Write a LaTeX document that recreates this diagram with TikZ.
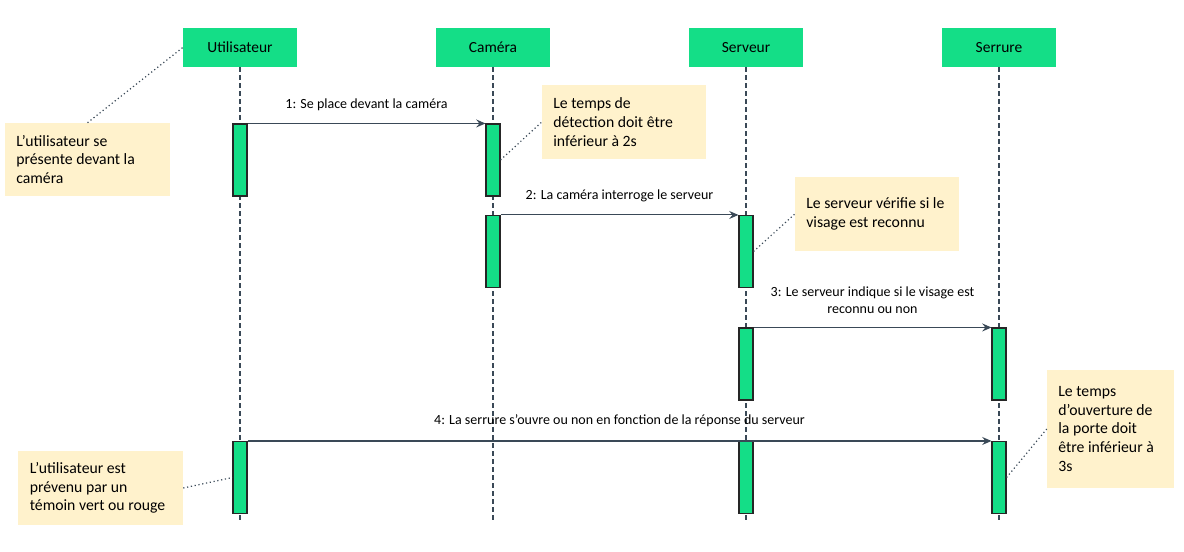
\documentclass[tikz,border=0pt]{standalone}
\usepackage{fontspec}
\setmainfont{Carlito}
\usetikzlibrary{arrows.meta}

\definecolor{actgreen}{HTML}{14DE87}
\definecolor{notebeige}{HTML}{FFF2CC}
\definecolor{lifegray}{HTML}{3A4957}

\tikzset{
	actor/.style={fill=actgreen, inner sep=0pt, minimum width=85.5pt, minimum height=29.25pt, font=\fontsize{11.6}{14}\selectfont},
	activation/.style={draw=black!85, fill=actgreen, line width=0.8pt, inner sep=0pt, minimum width=10.5pt, minimum height=54pt},
	note/.style={fill=notebeige, inner xsep=8.5pt, inner ysep=0pt, align=justify, text width=#1, font=\fontsize{11.8}{14}\selectfont},
	lifeline/.style={draw=lifegray, line width=0.9pt, dash pattern=on 3.4pt off 2.6pt},
	message/.style={draw=lifegray, line width=0.8pt, -{Stealth[length=7pt,width=6pt,inset=2.5pt]}},
	comment/.style={draw=lifegray, line width=0.9pt, dotted},
	msglabel/.style={font=\fontsize{10.5}{12.8}\selectfont, align=center, inner sep=0pt, text depth=0pt}
}

\begin{document}
\begin{tikzpicture}[x=0.75pt,y=-0.75pt]
	\useasboundingbox (0,0) rectangle (1184,552);

	% participants
	\node[actor] (user) at (240,47.5) {Utilisateur};
	\node[actor] (camera) at (493,47.5) {Caméra};
	\node[actor] (server) at (746,47.5) {Serveur};
	\node[actor] (lock) at (999,47.5) {Serrure};

	% lifeline ends
	\coordinate (userend) at (240,520);
	\coordinate (cameraend) at (493,520);
	\coordinate (serverend) at (746,520);
	\coordinate (lockend) at (999,520);

	\draw[lifeline] (user.south) -- (userend);
	\draw[lifeline] (camera.south) -- (cameraend);
	\draw[lifeline] (server.south) -- (serverend);
	\draw[lifeline] (lock.south) -- (lockend);

	% activation boxes
	\node[activation] (user1) at (240,160) {};
	\node[activation] (user2) at (240,477.5) {};
	\node[activation] (camera1) at (493,160) {};
	\node[activation] (camera2) at (493,251.5) {};
	\node[activation] (server1) at (746,251.5) {};
	\node[activation] (server2) at (746,364) {};
	\node[activation] (server3) at (746,477.5) {};
	\node[activation] (lock1) at (999,364) {};
	\node[activation] (lock2) at (999,477.5) {};

	% messages
	\draw[message] (user1.north east) -- node[msglabel, above=11pt] {1: Se place devant la caméra} (camera1.north west);
	\draw[message] (camera2.north east) -- node[msglabel, above=11pt] {2: La caméra interroge le serveur} (server1.north west);
	\draw[message] (server2.north east) -- node[msglabel, above=10pt] {3: Le serveur indique si le visage est\\reconnu ou non} (lock1.north west);
	\draw[message] (user2.north east) -- node[msglabel, above=12pt] {4: La serrure s’ouvre ou non en fonction de la réponse du serveur} (lock2.north west);

	% notes
	\node[note=106.75pt, minimum width=123.75pt, minimum height=54.75pt] (note1) at (87.5,159.5) {L’utilisateur se\\présente devant la\\caméra};
	\node[note=106pt, minimum width=123pt, minimum height=55.5pt] (note2) at (624,122) {Le temps de\\détection doit être\\inférieur à 2s};
	\node[note=106pt, minimum width=123pt, minimum height=55.5pt] (note3) at (877,214) {Le serveur vérifie si le\\visage est reconnu};
	\node[note=78.25pt, minimum width=95.25pt, minimum height=88.5pt] (note4) at (1110.5,429) {Le temps\\d’ouverture de\\la porte doit\\être inférieur à\\3s};
	\node[note=106pt, minimum width=123.75pt, minimum height=55.5pt] (note5) at (100.5,488) {L’utilisateur est\\prévenu par un\\témoin vert ou rouge};

	% note links
	\draw[comment] (note1.north) -- (user.west);
	\draw[comment] (camera1.east) -- (note2.west);
	\draw[comment] (server1.east) -- (note3.west);
	\draw[comment] (lock2.east) -- (note4.west);
	\draw[comment] (note5.east) -- (user2.west);
\end{tikzpicture}
\end{document}
